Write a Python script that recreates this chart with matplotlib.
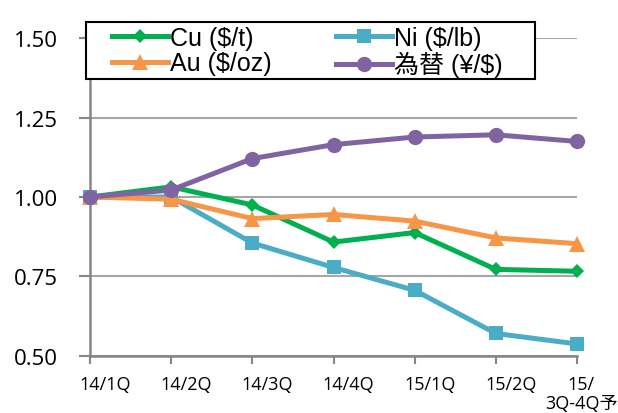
import matplotlib
matplotlib.use("Agg")
import matplotlib.pyplot as plt
import matplotlib.transforms as mtransforms
from matplotlib.patches import Rectangle

# quarter labels and indexed prices (14/1Q = 1.00)
quarters = ["14/1Q", "14/2Q", "14/3Q", "14/4Q", "15/1Q", "15/2Q", "15/\n3Q-4Q予"]
cu = [1.00, 1.032, 0.975, 0.858, 0.888, 0.772, 0.766]
ni = [1.00, 1.00, 0.855, 0.778, 0.706, 0.570, 0.537]
au = [1.00, 0.993, 0.932, 0.945, 0.924, 0.871, 0.853]
fx = [1.00, 1.022, 1.121, 1.165, 1.189, 1.196, 1.175]
yticks = [0.50, 0.75, 1.00, 1.25, 1.50]

W, H = 618, 414
fig = plt.figure(figsize=(W / 100, H / 100), dpi=100)
ax = fig.add_axes([90 / W, 1 - 356.7 / H, (577 - 90) / W, (356.7 - 39.3) / H])

x = list(range(len(quarters)))
series = [
    ("Cu ($/t)", cu, "#00B050", "D", 7.5),
    ("Ni ($/lb)", ni, "#4BACC6", "s", 10.5),
    ("Au ($/oz)", au, "#F79646", "^", 12),
    ("為替 (¥/$)", fx, "#8064A2", "o", 11),
]
handles = {}
for i, (name, vals, col, mk, ms) in enumerate(series):
    h, = ax.plot(x, vals, color=col, lw=3.6, marker=mk, markersize=ms,
                 markeredgewidth=0, label=name, clip_on=False, zorder=3 + i)
    handles[name] = h

ax.set_xlim(0, 6)
ax.set_ylim(0.5, 1.5)
ax.set_yticks(yticks)
ax.set_yticklabels([f"{v:.2f}" for v in yticks], fontsize=16, family=["Open Sans"])
ax.tick_params(axis="y", length=8, width=1.5, color="#868686", pad=15)
ax.set_xticks(x)
ax.set_xticklabels([])
ax.tick_params(axis="x", length=6, width=1.5, color="#868686")
ax.grid(axis="y", color="#A6A6A6", lw=1.5)
ax.set_axisbelow(True)
for s in ["top", "right"]:
    ax.spines[s].set_visible(False)
for s in ["left", "bottom"]:
    ax.spines[s].set_color("#868686")
    ax.spines[s].set_linewidth(1.8)

# category labels (Excel-style, shifted right of the ticks)
for i, lab in enumerate(quarters):
    dx = 15 if i < len(quarters) - 1 else 4
    off = mtransforms.ScaledTranslation(dx / 100, -19 / 100, fig.dpi_scale_trans)
    tr = mtransforms.blended_transform_factory(ax.transData, ax.transAxes) + off
    ax.text(i, 0, lab, transform=tr, ha="center", va="top", fontsize=13,
            family=["Open Sans", "Noto Sans CJK JP"], linespacing=1.1,
            multialignment="center", clip_on=False)

# legend box
fig.add_artist(Rectangle((86 / W, 1 - 80 / H), (535 - 86) / W, (80 - 23) / H,
                         transform=fig.transFigure, facecolor="white",
                         edgecolor="black", lw=1.5, zorder=4))
order = ["Cu ($/t)", "Au ($/oz)", "Ni ($/lb)", "為替 (¥/$)"]
fig.legend([handles[n] for n in order], order, ncol=2, loc="upper left",
           bbox_to_anchor=(112 / W, 1 - 27 / H), frameon=False, borderpad=0,
           borderaxespad=0, handlelength=2.24, handletextpad=0.08,
           columnspacing=2.56, labelspacing=0.05,
           prop={"family": ["Liberation Sans", "Noto Sans CJK JP"], "size": 18})

fig.savefig("out.png", dpi=100)
